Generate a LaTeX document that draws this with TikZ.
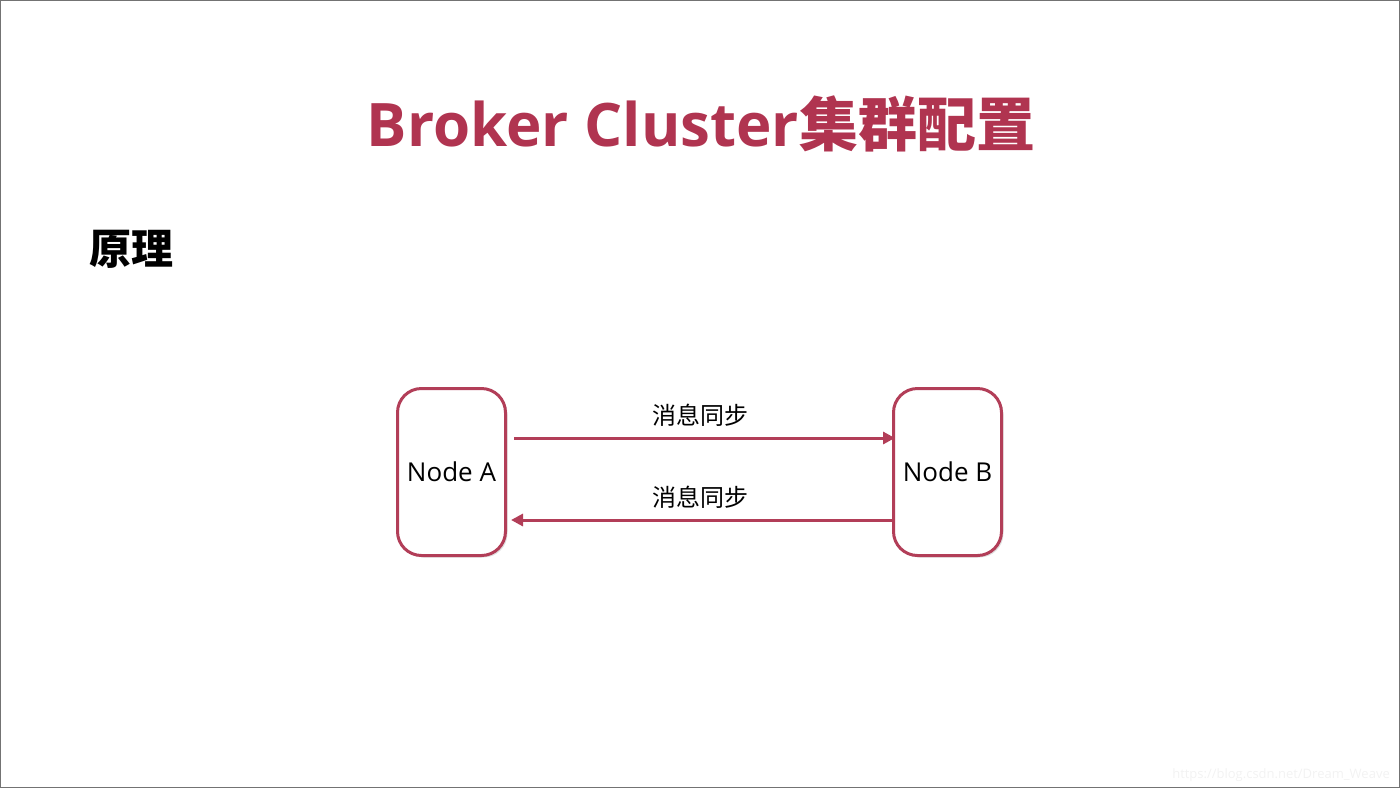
\documentclass[tikz,border=0pt]{standalone}
\usepackage{fontspec}
\setmainfont{Open Sans}
\newfontfamily\cjk{Noto Sans CJK SC}
\usetikzlibrary{shadows,arrows.meta}
\definecolor{crimson}{RGB}{176,52,80}
\definecolor{boxline}{RGB}{178,62,88}
\tikzset{
  nodebox/.style={draw=boxline, line width=3pt, rounded corners=24pt, fill=white,
    minimum width=108pt, minimum height=167pt, inner sep=0pt,
    font=\fontsize{26}{30}\selectfont,
    drop shadow={shadow xshift=2pt, shadow yshift=-2pt, opacity=0.25, fill=black!50}},
  syncarrow/.style={draw=boxline, line width=3pt, -{Triangle[length=12pt,width=12pt]}},
  synclabel/.style={font=\cjk\fontsize{24}{28}\selectfont, inner sep=0pt, anchor=base},
}
\begin{document}
\begin{tikzpicture}[x=1pt,y=-1pt]
\useasboundingbox (0,0) rectangle (1400,788);
\draw[black!55, line width=1pt] (0.5,0.5) rectangle (1399.5,787.5);
\node[anchor=base, inner sep=0pt, text=crimson, font=\fontsize{60}{70}\selectfont\bfseries] (title) at (701,146)
  {Broker Cluster{\cjk\bfseries\fontsize{59}{70}\selectfont 集群配置}};
\node[anchor=base west, inner sep=0pt, font=\cjk\bfseries\fontsize{42}{48}\selectfont] (yuanli) at (89,264) {原理};
\node[nodebox] (A) at (451.5,472) {Node A};
\node[nodebox] (B) at (947.5,472) {Node B};
\coordinate (a1) at (514,438);
\coordinate (b1) at (895,438);
\coordinate (b2) at (892,520);
\coordinate (a2) at (511,520);
\draw[syncarrow] (a1) -- (b1);
\draw[syncarrow] (b2) -- (a2);
\node[synclabel] (l1) at (700,424) {消息同步};
\node[synclabel] (l2) at (700,506) {消息同步};
\node[anchor=base east, inner sep=0pt, text=black!5, font=\fontsize{13}{15}\selectfont] (wm) at (1390,778) {https://blog.csdn.net/Dream\_Weave};
\end{tikzpicture}
\end{document}
